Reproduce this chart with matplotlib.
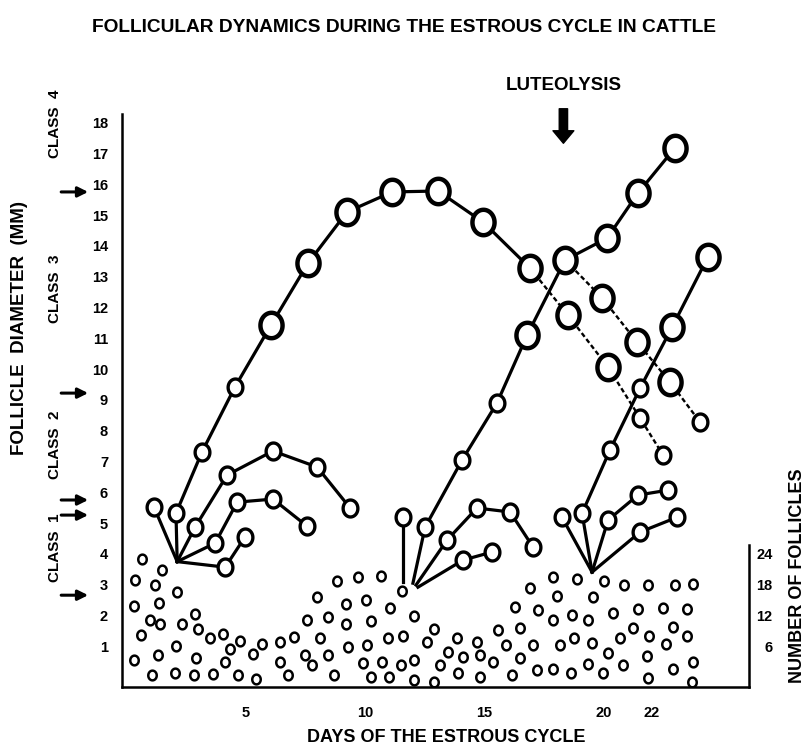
import numpy as np
import matplotlib
matplotlib.use("Agg")
import matplotlib.pyplot as plt
from matplotlib.path import Path

plt.rcParams['font.family'] = ['Liberation Sans', 'DejaVu Sans']
plt.rcParams['font.weight'] = 'bold'

# ---- follicle tracks: (day of cycle, diameter mm); first point = emergence point (no circle)
# wave 1
w1_dom_day = [2.13, 2.08, 3.17, 4.55, 6.06, 7.61, 9.24, 11.13, 13.05, 14.94, 16.90, 18.49, 20.17, 21.51, 22.47]
w1_dom_mm = [3.75, 5.32, 7.31, 9.42, 11.43, 13.44, 15.10, 15.75, 15.78, 14.77, 13.28, 11.75, 10.06, 8.41, 7.21]
w1_a_day = [2.13, 1.16]
w1_a_mm = [3.75, 5.52]
w1_b_day = [2.13, 2.88, 4.22, 6.14, 7.99, 9.37]
w1_b_mm = [3.75, 4.87, 6.56, 7.34, 6.82, 5.49]
w1_c_day = [2.13, 3.72, 4.64, 6.14, 7.57]
w1_c_mm = [3.75, 4.35, 5.68, 5.78, 4.90]
w1_d_day = [2.13, 4.14, 4.97]
w1_d_mm = [3.75, 3.57, 4.55]

# wave 2
w2_a_day = [11.59, 11.59]
w2_a_mm = [3.08, 5.19]
w2_dom_day = [12.00, 12.51, 14.06, 15.52, 16.78, 18.37, 20.13, 21.42, 22.97]
w2_dom_mm = [3.05, 4.87, 7.05, 8.90, 11.10, 13.54, 14.25, 15.71, 17.18]
w2_reg_day = [18.37, 19.92, 21.38, 22.76, 24.02]
w2_reg_mm = [13.54, 12.31, 10.88, 9.58, 8.28]
w2_b_day = [12.13, 13.43, 14.68, 16.07, 17.03]
w2_b_mm = [2.99, 4.45, 5.49, 5.36, 4.22]
w2_c_day = [12.21, 14.10, 15.31]
w2_c_mm = [2.92, 3.80, 4.06]

# wave 3
w3_a_day = [19.50, 18.24]
w3_a_mm = [3.41, 5.19]
w3_dom_day = [19.50, 19.08, 20.25, 21.51, 22.85, 24.35]
w3_dom_mm = [3.41, 5.32, 7.37, 9.38, 11.36, 13.64]
w3_b_day = [19.50, 20.17, 21.42, 22.68]
w3_b_mm = [3.41, 5.10, 5.91, 6.07]
w3_c_day = [19.50, 21.51, 23.06]
w3_c_mm = [3.41, 4.71, 5.19]

# small follicles (number of follicles band)
count_day = [0.67, 1.49, 0.37, 1.21, 2.11, 0.33, 1.37, 1.00, 1.41, 2.32, 2.88, 0.61, 3.02, 3.51, 4.06,
             2.08, 4.76, 4.34, 5.67, 5.32, 0.33, 1.34, 2.92, 4.14, 1.07, 2.04, 2.84, 3.65, 4.69, 5.43,
             6.44, 7.04, 6.44, 7.48, 7.76, 6.79, 8.70, 7.97, 8.81, 9.72, 10.67, 9.20, 10.04, 11.04, 7.56,
             8.46, 9.20, 10.23, 8.11, 9.30, 10.07, 10.95, 11.57, 8.46, 9.92, 10.69, 11.50, 12.06, 10.23, 11.01,
             12.06, 12.90, 11.53, 12.06, 12.58, 12.90, 13.14, 13.48, 13.83, 14.11, 13.90, 14.67, 14.81, 14.81, 15.37,
             15.58, 15.90, 16.28, 16.48, 16.48, 16.14, 16.90, 17.04, 17.18, 17.25, 17.85, 18.02, 17.85, 17.88, 18.16,
             18.62, 18.86, 18.65, 18.74, 19.32, 19.34, 19.49, 19.53, 20.00, 20.39, 20.16, 19.95, 20.67, 20.84, 20.81,
             21.23, 21.44, 21.85, 21.90, 21.81, 21.85, 22.46, 22.60, 22.88, 22.97, 22.90, 23.46, 23.49, 23.74, 23.71,
             23.70]
count_mm = [3.83, 3.47, 3.15, 2.99, 2.75, 2.31, 2.41, 1.87, 1.72, 1.74, 2.04, 1.36, 1.55, 1.28, 1.39,
            1.02, 1.17, 0.90, 1.09, 0.75, 0.55, 0.71, 0.61, 0.50, 0.06, 0.12, 0.06, 0.10, 0.06, -0.06,
            1.15, 1.29, 0.50, 0.71, 0.39, 0.06, 0.06, 2.59, 3.12, 3.24, 3.28, 2.39, 2.52, 2.23, 1.87,
            1.96, 1.74, 1.83, 1.26, 0.98, 1.04, 1.26, 1.33, 0.71, 0.46, 0.50, 0.39, 0.55, 0.01, 0.01,
            -0.10, -0.15, 2.80, 1.99, 1.15, 1.55, 0.39, 0.82, 1.26, 0.66, 0.12, 1.15, 0.71, 0.01, 0.50,
            1.53, 1.04, 2.28, 1.58, 0.61, 0.06, 2.88, 1.04, 0.23, 2.18, 3.26, 2.63, 1.85, 0.28, 1.04,
            0.12, 3.20, 2.01, 1.28, 1.87, 0.44, 1.11, 2.59, 3.13, 2.07, 0.77, 0.12, 1.28, 2.99, 0.39,
            1.61, 2.20, 2.99, 1.33, 0.68, -0.04, 2.23, 1.09, 1.63, 2.99, 0.28, 2.20, 1.33, 3.02, 0.50,
            -0.15]

count_ticks = [6, 12, 18, 24]
follicles_per_mm = 6
class_arrows_mm = [15.75, 9.22, 5.75, 5.26, 2.66]
class_names = ['CLASS  4', 'CLASS  3', 'CLASS  2', 'CLASS  1']
class_label_mm = [17.95, 12.6, 7.55, 4.2]
luteolysis_day = 18.3
day_ticks = [5, 10, 15, 20, 22]

# ---- figure
fig = plt.figure(figsize=(8.05, 7.5), dpi=100)
ax = fig.add_axes([122 / 805, 1 - 687 / 750, 627 / 805, 573 / 750])
ax.set_xlim(-0.18, 26.07)
ax.set_ylim(-0.32, 18.28)

t = np.linspace(0, 2 * np.pi, 64)
ellipse = Path(np.column_stack([0.87 * np.cos(t), np.sin(t)]), closed=True)


def draw_track(days, mm, dotted_from=None):
    n = len(days) if dotted_from is None else dotted_from + 1
    if n > 1:
        ax.plot(days[:n], mm[:n], color='k', lw=2.3, zorder=2)
    if dotted_from is not None:
        ax.plot(days[dotted_from:], mm[dotted_from:], color='k', lw=1.7,
                ls=(0, (2, 1.2)), zorder=2)
    for d, m in zip(days[1:], mm[1:]):
        big = m >= 9.5
        ax.plot(d, m, ls='none', marker=ellipse, ms=18.3 if big else 12.2,
                mew=3.2 if big else 2.4, mfc='white', mec='k', zorder=3)


draw_track(w1_dom_day, w1_dom_mm, dotted_from=10)
draw_track(w1_a_day, w1_a_mm)
draw_track(w1_b_day, w1_b_mm)
draw_track(w1_c_day, w1_c_mm)
draw_track(w1_d_day, w1_d_mm)
draw_track(w2_a_day, w2_a_mm)
draw_track(w2_dom_day, w2_dom_mm)
draw_track(w2_reg_day, w2_reg_mm, dotted_from=0)
draw_track(w2_b_day, w2_b_mm)
draw_track(w2_c_day, w2_c_mm)
draw_track(w3_a_day, w3_a_mm)
draw_track(w3_dom_day, w3_dom_mm)
draw_track(w3_b_day, w3_b_mm)
draw_track(w3_c_day, w3_c_mm)

ax.plot(count_day, count_mm, ls='none', marker=ellipse, ms=7, mew=1.8,
        mfc='white', mec='k', zorder=1)

# axes styling
for s in ['top', 'right']:
    ax.spines[s].set_visible(False)
for s in ['left', 'bottom']:
    ax.spines[s].set_linewidth(1.8)
ax.set_xticks(day_ticks)
ax.set_yticks(range(1, 19))
ax.tick_params(axis='x', length=0, pad=14, labelsize=10.5)
ax.tick_params(axis='y', length=0, pad=10, labelsize=10.5)

ax2 = ax.twinx()
ax2.set_ylim(ax.get_ylim())
ax2.set_yticks([c / follicles_per_mm for c in count_ticks], labels=[str(c) for c in count_ticks])
ax2.tick_params(axis='y', length=0, pad=17, labelsize=10.5)
for lab in ax2.get_yticklabels():
    lab.set_ha('right')
for s in ['top', 'left', 'bottom']:
    ax2.spines[s].set_visible(False)
ax2.spines['right'].set_linewidth(1.8)
ax2.spines['right'].set_bounds(-0.32, 4.29)

# class labels and arrows
ytrans = ax.get_yaxis_transform()
for name, m in zip(class_names, class_label_mm):
    ax.text(-0.107, m, name, transform=ytrans, rotation=90, ha='center', va='center',
            fontsize=11)
for m in class_arrows_mm:
    ax.annotate('', xy=(-0.054, m), xytext=(-0.097, m), xycoords=ytrans,
                textcoords=ytrans, annotation_clip=False,
                arrowprops=dict(arrowstyle='-|>,head_length=0.6,head_width=0.3',
                                lw=2.2, color='k', shrinkA=0, shrinkB=0))

# luteolysis
ax.annotate('', xy=(luteolysis_day, 17.33), xytext=(luteolysis_day, 18.45),
            annotation_clip=False,
            arrowprops=dict(arrowstyle='simple,head_length=0.45,head_width=0.75,tail_width=0.3',
                            fc='k', ec='k', mutation_scale=20, shrinkA=0, shrinkB=0))
ax.text(luteolysis_day, 19.19, 'LUTEOLYSIS', ha='center', va='center', fontsize=13.5)

fig.text(404 / 805, 1 - 28 / 750, 'FOLLICULAR DYNAMICS DURING THE ESTROUS CYCLE IN CATTLE',
         ha='center', va='center', fontsize=13.8)
fig.text(446 / 805, 1 - 738 / 750, 'DAYS OF THE ESTROUS CYCLE', ha='center', va='center',
         fontsize=13)
fig.text(20 / 805, 1 - 328 / 750, 'FOLLICLE  DIAMETER  (MM)', rotation=90, ha='center',
         va='center', fontsize=13.5)
fig.text(797 / 805, 1 - 576 / 750, 'NUMBER OF FOLLICLES', rotation=90, ha='center',
         va='center', fontsize=13)

fig.savefig('out.png', dpi=100)
